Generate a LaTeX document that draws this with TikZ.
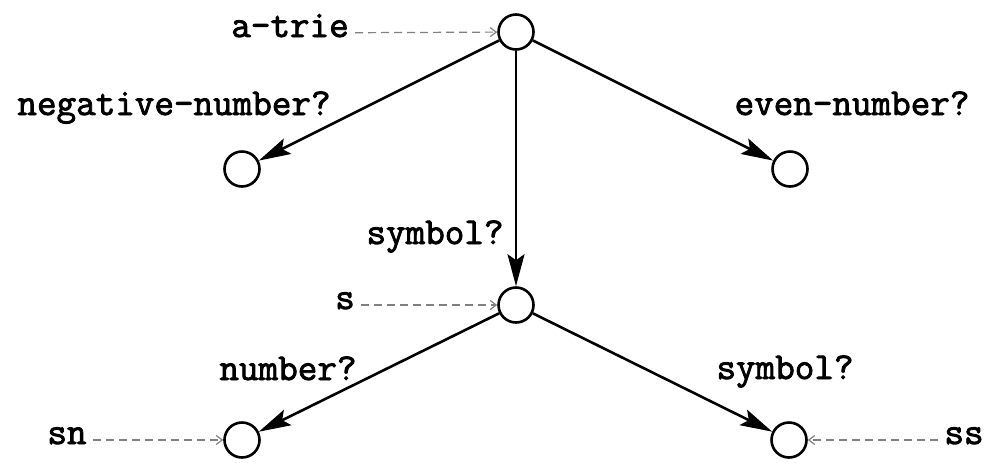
\documentclass[tikz,border=0pt]{standalone}
\usepackage{fontspec}
\newfontfamily\trieface[FakeBold=2.2]{Latin Modern Mono}
\usetikzlibrary{arrows.meta, positioning}

\begin{document}
\begin{tikzpicture}[x=0.5pt, y=-0.5pt,
    state/.style={circle, draw=black, line width=1.3pt, fill=white, inner sep=0pt, minimum size=17.5pt},
    lbl/.style={font=\trieface\fontsize{19}{21}\selectfont, inner sep=0pt, text height=0.6em, text depth=0.2em},
    edge/.style={line width=1.3pt, -{Stealth[length=16pt, width=8.5pt, inset=3pt]}},
    ptr/.style={gray, line width=0.6pt, dash pattern=on 4pt off 2.5pt, -{Straight Barb[length=3pt, width=4.5pt]}, shorten <=3pt}]
      \useasboundingbox (0, 0) rectangle (984, 462);

      \node[state] (t) at (516, 32) {};
      \node[state] (tn) at (242, 169) {};
      \node[state] (te) at (790, 169) {};
      \node[state] (ts) at (516, 305) {};
      \node[state] (tsn) at (242, 440) {};
      \node[state] (tss) at (789, 440) {};

      \node[lbl] (atrie) at (290, 33) {a-trie};
      \node[lbl] (lneg) at (174, 111) {negative-number?};
      \node[lbl] (leven) at (852, 111) {even-number?};
      \node[lbl] (lsym) at (435, 240) {symbol?};
      \node[lbl] (s) at (345, 305) {s};
      \node[lbl] (lnum) at (288, 376) {number?};
      \node[lbl] (lsym2) at (785, 375) {symbol?};
      \node[lbl] (sn) at (67, 440) {sn};
      \node[lbl] (ss) at (964, 440) {ss};

      \draw[edge] (t) -- (tn);
      \draw[edge] (t) -- (te);
      \draw[edge] (t) -- (ts);
      \draw[edge] (ts) -- (tsn);
      \draw[edge] (ts) -- (tss);

      \draw[ptr] (atrie) -- (t);
      \draw[ptr] (s) -- (ts);
      \draw[ptr] (sn) -- (tsn);
      \draw[ptr] (ss) -- (tss);

    \end{tikzpicture}
\end{document}
